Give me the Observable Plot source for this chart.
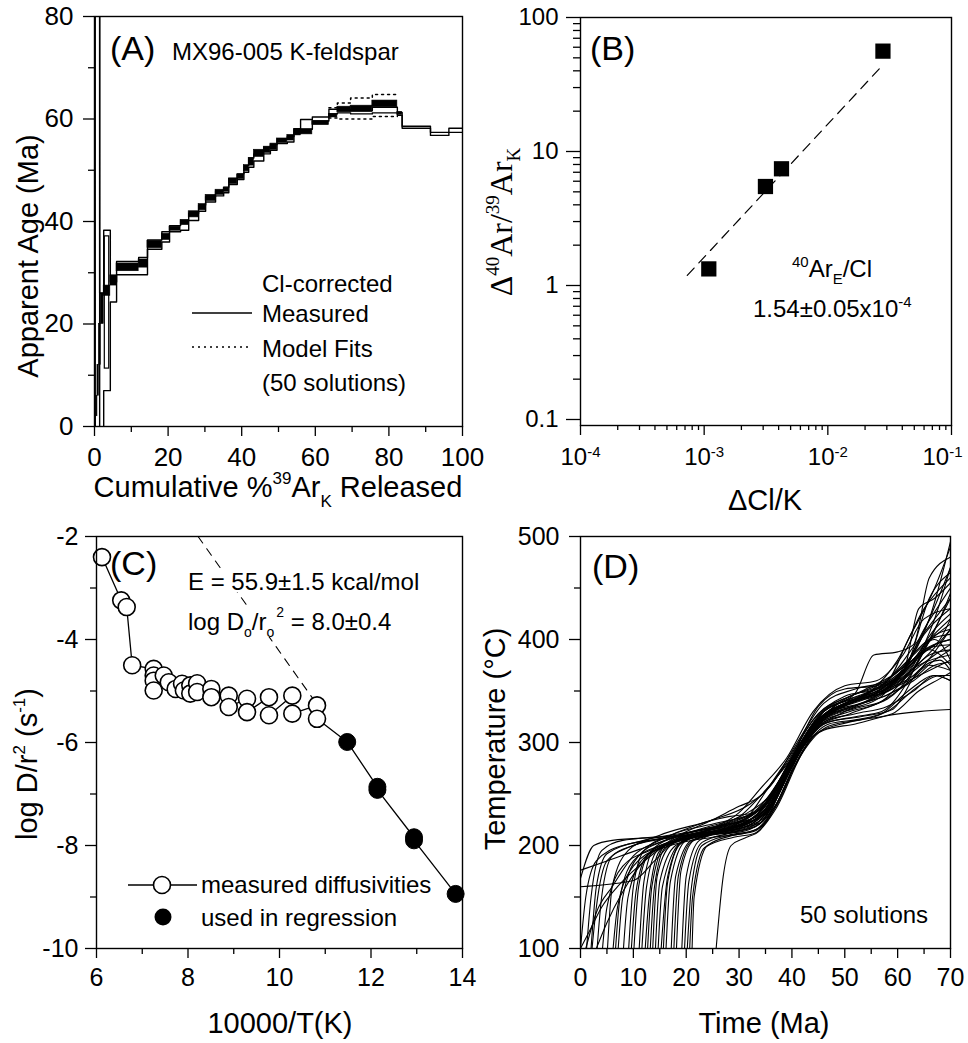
<!DOCTYPE html>
<html><head><meta charset="utf-8">
<script src="https://cdn.jsdelivr.net/npm/d3@7"></script>
<script src="https://cdn.jsdelivr.net/npm/@observablehq/plot@0.6"></script>
<style>
body{margin:0;background:#fff;}
#root{position:relative;width:968px;height:1043px;overflow:hidden;background:#fff;}
#root svg{position:absolute;}
</style></head><body><div id="root"></div>
<script>
const FONT = '"Liberation Sans", Arial, Helvetica, sans-serif';

// ---------- Panel A: age spectrum ----------
const aXTicks = [0, 20, 40, 60, 80, 100];
const aXMinor = [10, 30, 50, 70, 90];
const aYTicks = [0, 20, 40, 60, 80];
const aYMinor = [10, 30, 50, 70];
// measured step boundaries (cumulative %39ArK) and age envelope (Ma)
const measX0 = [0, 0.2, 0.8, 1.4, 2.5, 4.3, 6.0, 12.0, 14.4, 18.3, 20.4, 23.4, 25.6, 28.3, 30.2, 32.9, 35.1, 36.5, 38.8, 40.6, 41.9, 43.3, 46.0, 47.8, 49.6, 52.4, 54.2, 56.0, 59.2, 63.7, 66.0, 69.6, 75.5, 82.3, 83.6, 91.3, 96.3];
const measEnd = 100;
const measLo = [0, 95, 88, -2, 7, 24.3, 29.6, 29.6, 34.6, 36.0, 38.0, 38.3, 40.2, 42.0, 43.8, 45.0, 45.6, 47.2, 48.2, 49.6, 50.6, 51.8, 53.2, 53.9, 55.2, 55.5, 57.1, 58.0, 59.6, 61.0, 61.2, 61.0, 61.2, 60.7, 58.2, 56.8, 57.4];
const measHi = [200, 200, 200, 26, 38.3, 28.2, 32.2, 33.0, 36.4, 38.0, 39.2, 40.2, 41.6, 43.2, 44.9, 46.0, 46.7, 48.4, 49.3, 50.9, 52.4, 53.2, 54.5, 55.0, 56.1, 56.6, 58.1, 59.9, 60.4, 61.9, 61.8, 61.6, 62.3, 61.3, 58.6, 57.4, 58.2];
// inner box of the low-temperature step
const innerBoxX = [2.8, 4.0];
const innerBoxY = [11.3, 37.1];
// dense bundle of the 50 model fits
const fitX0 = [0, 0.4, 0.8, 1.2, 1.7, 2.5, 4.3, 6.0, 12.0, 14.4, 18.3, 20.4, 23.4, 25.6, 28.3, 30.2, 32.9, 35.1, 36.5, 38.8, 40.6, 41.9, 43.3, 46.0, 47.8, 49.6, 52.4, 54.2, 56.0, 59.2, 63.7, 66.0, 69.6, 75.5, 82.3];
const fitEnd = 83.6;
const fitLo = [0, 2, 6, 12, 20, 25.5, 27.5, 30.3, 31.0, 34.8, 36.4, 38.2, 39.3, 40.8, 42.2, 44.0, 45.2, 45.8, 47.3, 48.3, 49.8, 50.9, 52.6, 53.4, 54.0, 55.3, 55.8, 56.8, 57.0, 58.8, 60.3, 61.3, 61.4, 62.3, 60.8];
const fitHi = [2, 6, 12, 20, 26, 27.5, 29.5, 31.8, 32.6, 36.2, 37.6, 39.0, 40.3, 42.0, 43.4, 45.2, 46.2, 46.6, 48.4, 49.2, 51.0, 52.4, 54.0, 54.6, 55.2, 56.2, 56.9, 58.0, 58.0, 59.6, 61.0, 62.4, 62.6, 63.6, 61.4];
// outer (dotted) model-fit envelope
const envX0 = [63.7, 66.0, 69.6, 75.5];
const envEnd = 82.3;
const envLo = [60.2, 60.0, 60.0, 60.5];
const envHi = [62.2, 63.1, 64.1, 64.8];

// ---------- Panel B ----------
const bXTicks = [1e-4, 1e-3, 1e-2, 1e-1];
const bYTicks = [0.1, 1, 10, 100];
const bMinorMult = [2, 3, 4, 5, 6, 7, 8, 9];
const bClK = [1.09e-3, 3.13e-3, 4.22e-3, 2.79e-2];
const bArK = [1.33, 5.48, 7.43, 56.1];
const bLineX = [7.3e-4, 2.84e-2];
const bLineY = [1.19, 45.1];

// ---------- Panel C ----------
const cXTicks = [6, 8, 10, 12, 14];
const cXMinor = [7, 9, 11, 13];
const cYTicks = [-2, -4, -6, -8, -10];
const cYMinor = [-3, -5, -7, -9];
const cInvT = [6.12, 6.54, 6.66, 6.78, 7.25, 7.25, 7.25, 7.25, 7.47, 7.58, 7.73, 7.87, 7.91, 8.05, 8.05, 8.20, 8.20, 8.51, 8.51, 8.89, 8.89, 9.29, 9.29, 9.77, 9.77, 10.28, 10.28, 10.82, 10.82, 11.48, 12.14, 12.14, 12.94, 12.94, 13.85];
const cLogD = [-2.40, -3.24, -3.37, -4.50, -4.57, -4.70, -4.80, -4.99, -4.70, -4.83, -4.96, -4.86, -4.99, -4.89, -5.05, -4.85, -5.02, -4.96, -5.12, -5.09, -5.31, -5.15, -5.41, -5.12, -5.47, -5.09, -5.44, -5.28, -5.54, -5.99, -6.86, -6.92, -7.84, -7.90, -8.94];
const cUsed = [0,0,0,0,0,0,0,0,0,0,0,0,0,0,0,0,0,0,0,0,0,0,0,0,0,0,0,0,0,1,1,1,1,1,1];
const cRegX = [8.22, 10.85];
const cRegY = [-2.0, -5.3];

// ---------- Panel D: thermal histories (subset) ----------
const dXTicks = [0, 10, 20, 30, 40, 50, 60, 70];
const dXMinor = [5, 15, 25, 35, 45, 55, 65];
const dYTicks = [100, 200, 300, 400, 500];
const dYMinor = [150, 250, 350, 450];
const dCurves = [
 [0,168, 2.5,200, 6,205, 15,208, 25,212, 32,218, 37,245, 41,290, 45,322, 52,335, 58,350, 63,375, 67,420, 70,470],
 [0,160, 10,166, 14,185, 18,205, 26,215, 33,225, 38,262, 42,300, 46,330, 53,345, 58,360, 64,400, 70,440],
 [0,176, 5,185, 11,196, 18,208, 28,220, 34,235, 39,275, 44,318, 50,338, 56,350, 61,370, 66,420, 70,495],
 [1,90, 2,150, 4,195, 8,205, 20,210, 30,213, 34,222, 39,268, 44,310, 50,330, 57,345, 63,385, 67,400, 70,380],
 [3,90, 4,150, 6,190, 10,200, 20,212, 30,228, 34,248, 40,285, 45,322, 52,340, 58,352, 63,365, 70,410],
 [5,90, 6,160, 9,195, 15,210, 25,225, 32,240, 36,258, 41,300, 46,338, 52,352, 58,360, 62,400, 67,450, 70,490],
 [7,90, 8,150, 11,190, 16,205, 24,218, 31,230, 36,250, 41,295, 46,325, 53,342, 60,360, 65,405, 70,430],
 [9,90, 10,160, 12,195, 17,210, 26,222, 33,232, 38,262, 43,305, 48,330, 55,345, 60,365, 65,390, 70,400],
 [11,90, 12,165, 14,198, 19,210, 27,220, 33,227, 38,258, 42,295, 47,328, 54,340, 59,355, 64,375, 70,385],
 [12,80, 13,150, 15,195, 20,210, 28,215, 34,222, 39,272, 44,315, 50,332, 56,345, 61,368, 66,390, 70,375],
 [13,80, 14,160, 16,198, 22,212, 29,220, 35,235, 40,285, 44,318, 49,335, 55,350, 60,380, 65,430, 70,460],
 [13.5,80, 14.5,170, 17,200, 24,215, 30,225, 35,240, 40,282, 45,320, 51,338, 57,355, 62,375, 66,400, 70,420],
 [14,80, 15,165, 18,200, 25,212, 31,218, 35,228, 40,280, 45,318, 51,330, 57,340, 62,365, 67,385, 70,395],
 [14.5,80, 15.5,160, 19,203, 26,215, 32,225, 36,245, 41,292, 46,325, 52,340, 58,350, 62,360, 66,370, 70,380],
 [15,80, 16.5,170, 19.5,205, 26,212, 32,220, 36,240, 41,290, 46,322, 52,333, 58,342, 63,370, 67,410, 70,440],
 [16,80, 17,165, 20,205, 27,215, 32,230, 35,252, 40,290, 45,328, 51,345, 57,358, 62,380, 66,420, 70,470],
 [17,80, 18,170, 21,205, 27,213, 32,222, 36,240, 41,288, 46,320, 52,328, 58,335, 63,350, 67,365, 70,360],
 [18,80, 19,175, 21.5,205, 28,213, 33,218, 37,240, 41,282, 46,318, 52,325, 57,330, 62,360, 66,400, 70,410],
 [19,80, 20,170, 22.5,205, 28,215, 33,225, 37,250, 41,292, 46,325, 53,345, 59,360, 63,378, 67,395, 70,400],
 [20,80, 21,160, 23,200, 28,210, 33,215, 37,240, 42,295, 47,320, 53,325, 59,332, 64,370, 68,380, 70,370],
 [21,80, 21.5,150, 24,200, 29,210, 33,214, 37,238, 42,292, 47,318, 52,322, 58,330, 64,355, 68,365, 70,365],
 [25.5,90, 27,170, 28.5,200, 31,207, 34,215, 38,255, 42,295, 46,312, 52,318, 58,326, 64,330, 70,332],
 [2,90, 3,140, 5,185, 9,198, 16,207, 24,216, 31,225, 36,250, 41,290, 46,330, 52,348, 55.5,385, 60,388, 63,395, 66,460, 70,480],
 [4,90, 5,140, 8,180, 13,195, 20,207, 28,222, 34,238, 39,275, 45,335, 50,352, 56,355, 61,368, 64,430, 67,440, 70,455],
 [6,90, 7,140, 10,180, 16,200, 24,210, 31,215, 35,226, 40,278, 45,315, 51,328, 57,340, 62,358, 66,375, 70,370],
 [8,90, 9,150, 12,188, 17,200, 25,208, 31,212, 35,222, 40,272, 45,310, 51,320, 57,328, 62,350, 67,365, 70,360],
 [10,90, 11,160, 13,192, 18,203, 25,212, 31,218, 35,232, 40,283, 45,320, 51,338, 57,348, 62,372, 66,392, 70,395],
 [0,100, 2,120, 4,140, 7,160, 11,180, 16,200, 24,215, 30,232, 34,255, 39,285, 44,330, 50,355, 56,360, 61,385, 65,420, 70,430],
 [3,100, 5,125, 8,155, 12,185, 17,205, 25,225, 30,238, 34,248, 39,280, 44,322, 50,345, 56,352, 61,375, 66,400, 70,405],
 [1,100, 3,135, 6,160, 10,190, 15,205, 22,220, 28,228, 33,232, 38,265, 43,305, 48,335, 54,352, 59,365, 64,385, 68,400, 70,420],
 [0,100, 1,150, 3,185, 8,200, 18,208, 27,215, 33,228, 38,262, 43,310, 48,335, 54,348, 60,362, 65,410, 70,450],
 [2,100, 3,160, 5,192, 12,205, 22,214, 30,222, 35,242, 40,285, 45,325, 51,342, 57,352, 62,378, 66,440, 70,465],
 [12.5,80, 13.5,160, 16,200, 23,212, 30,220, 35,232, 40,280, 45,322, 51,340, 57,350, 62,372, 67,410, 70,425],
 [15.5,80, 16.5,165, 19,202, 26,214, 32,222, 36,238, 41,286, 46,322, 52,336, 58,346, 63,362, 67,380, 70,390],
 [17.5,80, 18.5,170, 21,204, 27,214, 32,224, 36,246, 41,292, 46,326, 52,342, 58,354, 63,372, 67,392, 70,410],
 [19.5,80, 20.5,165, 23,203, 29,213, 33,220, 37,246, 42,296, 47,328, 53,342, 59,352, 64,380, 68,420, 70,445],
 [20.5,80, 21.2,150, 23.5,198, 29,208, 33,212, 37,236, 42,290, 47,316, 53,322, 59,328, 64,350, 68,362, 70,368],
 [6.5,90, 7.5,150, 10,185, 15,200, 23,210, 30,220, 34,232, 39,272, 44,318, 50,336, 56,348, 61,362, 66,385, 70,390],
 [9.5,90, 10.5,155, 12.5,190, 17,204, 25,216, 31,226, 35,240, 40,285, 45,326, 51,345, 57,355, 62,370, 66,398, 70,415],
 [11.5,90, 12.5,160, 14.5,195, 19,206, 26,214, 32,222, 36,236, 41,288, 46,324, 52,336, 58,346, 63,360, 67,375, 70,378]
];

// ---------- helpers ----------
function stepPts(x0, end, v) {
  const pts = x0.map((x, i) => ({x, y: v[i]}));
  pts.push({x: end, y: v[v.length - 1]});
  return pts;
}
const root = document.getElementById("root");
function panel(o) {
  const svg = Plot.plot({
    width: o.w, height: o.h,
    marginLeft: o.ml, marginRight: o.mr, marginTop: o.mt, marginBottom: o.mb,
    x: {type: o.xType || "linear", domain: o.xDomain},
    y: {type: o.yType || "linear", domain: o.yDomain},
    style: {fontFamily: FONT, fontSize: (o.fs || 25) + "px", color: "#000", background: "transparent", overflow: "visible"},
    marks: [
      ...o.marks,
      Plot.frame({stroke: "#000", strokeWidth: 1.4}),
      Plot.axisX({ticks: o.xTicks, tickSize: o.xTS || 10, tickPadding: o.xPad || 10, tickFormat: o.xFmt || (d => String(d)), label: null, strokeWidth: 1.3}),
      Plot.axisX({ticks: o.xMinor, tickSize: o.xMS || 6, tickFormat: () => "", label: null, strokeWidth: 1.3}),
      Plot.axisY({ticks: o.yTicks, tickSize: o.yTS || 11, tickPadding: o.yPad || 10, tickFormat: o.yFmt || (d => String(d)), label: null, strokeWidth: 1.3}),
      Plot.axisY({ticks: o.yMinor, tickSize: o.yMS || 6, tickFormat: () => "", label: null, strokeWidth: 1.3})
    ]
  });
  svg.style.left = o.left + "px";
  svg.style.top = o.top + "px";
  root.appendChild(svg);
  return svg;
}

// Panel A
panel({
  left: 0, top: 0, w: 484, h: 521, ml: 94, mr: 22, mt: 16, mb: 95, fs: 26,
  xDomain: [0, 100], yDomain: [0, 80],
  xTicks: aXTicks, xMinor: aXMinor, yTicks: aYTicks, yMinor: aYMinor, xPad: 11, yPad: 10,
  marks: [
    Plot.rect(fitX0.map((x, i) => ({x1: x, x2: i + 1 < fitX0.length ? fitX0[i + 1] : fitEnd, y1: fitLo[i], y2: fitHi[i]})),
      {x1: "x1", x2: "x2", y1: "y1", y2: "y2", fill: "#000", stroke: "#000", strokeWidth: 0.6, clip: true}),
    Plot.line(stepPts(measX0, measEnd, measHi), {x: "x", y: "y", curve: "step-after", stroke: "#000", strokeWidth: 1.4, clip: true}),
    Plot.line(stepPts(measX0, measEnd, measLo), {x: "x", y: "y", curve: "step-after", stroke: "#000", strokeWidth: 1.4, clip: true}),
    Plot.rect([{x1: innerBoxX[0], x2: innerBoxX[1], y1: innerBoxY[0], y2: innerBoxY[1]}], {x1: "x1", x2: "x2", y1: "y1", y2: "y2", fill: "none", stroke: "#000", strokeWidth: 1.2}),
    Plot.line(stepPts(envX0, envEnd, envHi), {x: "x", y: "y", curve: "step-after", stroke: "#000", strokeWidth: 1.5, strokeDasharray: "2,4"}),
    Plot.line(stepPts(envX0, envEnd, envLo), {x: "x", y: "y", curve: "step-after", stroke: "#000", strokeWidth: 1.5, strokeDasharray: "2,4"})
  ]
});

// Panel B
const bXMinor = [], bYMinor = [];
for (const d of [1e-4, 1e-3, 1e-2]) for (const m of bMinorMult) bXMinor.push(d * m);
for (const d of [0.1, 1, 10]) for (const m of bMinorMult) bYMinor.push(d * m);
const svgB = panel({
  left: 484, top: 0, w: 484, h: 521, ml: 96, mr: 17, mt: 17, mb: 96, fs: 24,
  xType: "log", yType: "log", xDomain: [1e-4, 1e-1], yDomain: [0.0902, 100],
  xTicks: bXTicks, xMinor: bXMinor, yTicks: bYTicks, yMinor: bYMinor,
  xTS: 10, xMS: 5, yTS: 14, yMS: 7, xPad: 12, yPad: 8,
  xFmt: d => "10^" + Math.round(Math.log10(d)),
  yFmt: d => String(d),
  marks: [
    Plot.line(bLineX.map((x, i) => ({x, y: bLineY[i]})), {x: "x", y: "y", stroke: "#000", strokeWidth: 1.2, strokeDasharray: "10,7"}),
    Plot.dot(bClK.map((x, i) => ({x, y: bArK[i]})), {x: "x", y: "y", symbol: "square", r: 8.6, fill: "#000", stroke: "none"})
  ]
});
d3.select(svgB).selectAll("text").each(function() {
  const t = this.textContent;
  if (t.startsWith("10^")) {
    const e = t.slice(3);
    const sel = d3.select(this);
    sel.text("");
    if (e === "-1") sel.attr("dx", -9);
    sel.append("tspan").text("10");
    sel.append("tspan").attr("dy", "-0.5em").attr("font-size", "15px").text(e);
  }
});

// Panel C
panel({
  left: 0, top: 521, w: 484, h: 522, ml: 96, mr: 22, mt: 15, mb: 95, fs: 25,
  xDomain: [6, 14], yDomain: [-10, -2],
  xTicks: cXTicks, xMinor: cXMinor, yTicks: cYTicks, yMinor: cYMinor, xPad: 10, yPad: 7,
  marks: [
    Plot.line(cRegX.map((x, i) => ({x, y: cRegY[i]})), {x: "x", y: "y", stroke: "#000", strokeWidth: 1.1, strokeDasharray: "8,7", clip: true}),
    Plot.line(cInvT.map((x, i) => ({x, y: cLogD[i]})), {x: "x", y: "y", stroke: "#000", strokeWidth: 1.3}),
    Plot.dot(cInvT.map((x, i) => ({x, y: cLogD[i], u: cUsed[i]})).filter(d => !d.u), {x: "x", y: "y", r: 8.5, fill: "#fff", stroke: "#000", strokeWidth: 1.6}),
    Plot.dot(cInvT.map((x, i) => ({x, y: cLogD[i], u: cUsed[i]})).filter(d => d.u), {x: "x", y: "y", r: 8.5, fill: "#000", stroke: "#000", strokeWidth: 1})
  ]
});

// Panel D
const dRows = [];
dCurves.forEach((c, k) => { for (let i = 0; i < c.length; i += 2) dRows.push({id: k, t: c[i], T: c[i + 1]}); });
panel({
  left: 484, top: 521, w: 484, h: 522, ml: 96, mr: 18, mt: 15, mb: 95, fs: 25,
  xDomain: [0, 70], yDomain: [100, 500],
  xTicks: dXTicks, xMinor: dXMinor, yTicks: dYTicks, yMinor: dYMinor, xPad: 10, yPad: 10,
  marks: [
    Plot.line(dRows, {x: "t", y: "T", z: "id", curve: "monotone-x", stroke: "#000", strokeWidth: 1.1, clip: true})
  ]
});

// ---------- overlay texts & legends ----------
const ov = `
<svg width="968" height="1043" style="left:0;top:0;pointer-events:none" font-family='${FONT}' fill="#000">
 <text x="110" y="60" font-size="34">(A)</text>
 <text x="172" y="60" font-size="24">MX96-005 K-feldspar</text>
 <text x="262" y="292" font-size="24">Cl-corrected</text>
 <line x1="192" x2="252" y1="313" y2="313" stroke="#000" stroke-width="1.4"/>
 <text x="262" y="322" font-size="24">Measured</text>
 <line x1="192" x2="252" y1="347" y2="347" stroke="#000" stroke-width="1.5" stroke-dasharray="2,4"/>
 <text x="262" y="357" font-size="24">Model Fits</text>
 <text x="262" y="391" font-size="24">(50 solutions)</text>
 <text x="278" y="497" font-size="29" text-anchor="middle">Cumulative %<tspan dy="-13" font-size="17">39</tspan><tspan dy="13">Ar</tspan><tspan dy="10" font-size="17">K</tspan><tspan dy="-10"> Released</tspan></text>
 <text transform="translate(38,256) rotate(-90)" font-size="29" text-anchor="middle">Apparent Age (Ma)</text>

 <text x="590" y="60" font-size="34">(B)</text>
 <text x="792" y="277" font-size="24"><tspan font-size="15" dy="-10">40</tspan><tspan dy="10">Ar</tspan><tspan font-size="15" dy="7">E</tspan><tspan dy="-7">/Cl</tspan></text>
 <text x="753" y="317" font-size="24">1.54±0.05x10<tspan font-size="15" dy="-10">-4</tspan></text>
 <text x="765" y="510" font-size="29" text-anchor="middle">ΔCl/K</text>
 <text transform="translate(512,222) rotate(-90)" font-size="32" text-anchor="middle" font-family='"Liberation Serif", "Times New Roman", serif'>Δ<tspan font-size="19" dy="-13">40</tspan><tspan dy="13">Ar/</tspan><tspan font-size="19" dy="-13">39</tspan><tspan dy="13">Ar</tspan><tspan font-size="19" dy="8">K</tspan></text>

 <text x="110" y="575" font-size="34">(C)</text>
 <text class="bg" x="188" y="590" font-size="24">E = 55.9±1.5 kcal/mol</text>
 <text class="bg" x="188" y="630" font-size="24">log D<tspan font-size="14" dy="7">o</tspan><tspan dy="-7">/r</tspan><tspan font-size="14" dy="7">o</tspan><tspan font-size="14" dx="2" dy="-20">2</tspan><tspan dy="13"> = 8.0±0.4</tspan></text>
 <line x1="128" x2="197" y1="885" y2="885" stroke="#000" stroke-width="1.3"/>
 <circle cx="162" cy="885" r="8.5" fill="#fff" stroke="#000" stroke-width="1.6"/>
 <text x="201" y="893" font-size="24">measured diffusivities</text>
 <circle cx="163" cy="917" r="8.5" fill="#000"/>
 <text x="201" y="926" font-size="24">used in regression</text>
 <text x="280" y="1033" font-size="29" text-anchor="middle">10000/T(K)</text>
 <text transform="translate(37,764) rotate(-90)" font-size="29" text-anchor="middle">log D/r<tspan font-size="17" dy="-12">2</tspan><tspan dy="12"> (s</tspan><tspan font-size="17" dy="-12">-1</tspan><tspan dy="12">)</tspan></text>

 <text x="592" y="578" font-size="34">(D)</text>
 <text x="800" y="923" font-size="24">50 solutions</text>
 <text x="764" y="1033" font-size="29" text-anchor="middle">Time (Ma)</text>
 <text transform="translate(505,739) rotate(-90)" font-size="29" text-anchor="middle">Temperature (°C)</text>
</svg>`;
root.insertAdjacentHTML("beforeend", ov);
const ovSvg = root.lastElementChild;
ovSvg.querySelectorAll("text.bg").forEach(t => {
  const b = t.getBBox();
  const r = document.createElementNS("http://www.w3.org/2000/svg", "rect");
  r.setAttribute("x", b.x - 2); r.setAttribute("y", b.y + 3);
  r.setAttribute("width", b.width + 4); r.setAttribute("height", b.height - 6);
  r.setAttribute("fill", "#fff");
  t.parentNode.insertBefore(r, t);
});
</script></body></html>
